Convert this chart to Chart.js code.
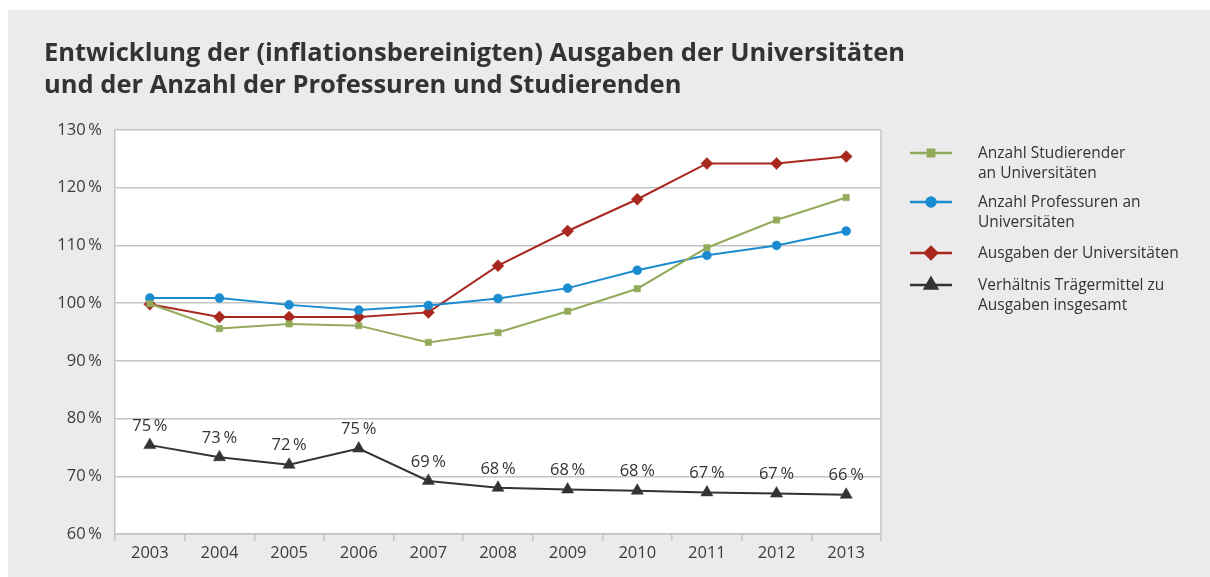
<!DOCTYPE html>
<html>
<head>
<meta charset="utf-8">
<script src="https://cdn.jsdelivr.net/npm/chart.js@4/dist/chart.umd.min.js"></script>
<style>
  html, body { margin: 0; padding: 0; background: #fff; }
  #wrap { position: relative; width: 1210px; height: 577px; }
</style>
</head>
<body>
<div id="wrap"><canvas id="chart" width="1210" height="577"></canvas></div>
<script>
// Daten
const years = ['2003', '2004', '2005', '2006', '2007', '2008', '2009', '2010', '2011', '2012', '2013'];
const studierende = [99.9, 95.6, 96.4, 96.1, 93.2, 94.9, 98.6, 102.5, 109.6, 114.4, 118.3];
const professuren = [100.9, 100.9, 99.7, 98.8, 99.6, 100.8, 102.6, 105.7, 108.3, 110.0, 112.5];
const ausgaben = [99.8, 97.6, 97.6, 97.6, 98.4, 106.5, 112.5, 118.0, 124.2, 124.2, 125.4];
const verhaeltnis = [75.4, 73.3, 72.0, 74.8, 69.2, 68.0, 67.7, 67.5, 67.2, 67.0, 66.8];
const verhaeltnisLabels = ['75\u2009%', '73\u2009%', '72\u2009%', '75\u2009%', '69\u2009%', '68\u2009%', '68\u2009%', '68\u2009%', '67\u2009%', '67\u2009%', '66\u2009%'];
const yTicks = [60, 70, 80, 90, 100, 110, 120, 130];
const titleLines = [
    'Entwicklung der (inflationsbereinigten) Ausgaben der Universitäten',
    'und der Anzahl der Professuren und Studierenden'
];
const legendTexts = [
    ['Anzahl Studierender', 'an Universitäten'],
    ['Anzahl Professuren an', 'Universitäten'],
    ['Ausgaben der Universitäten'],
    ['Verhältnis Trägermittel zu', 'Ausgaben insgesamt']
];

const FONT = '"Open Sans", "Noto Sans", sans-serif';
const GRID = '#c4c4c4';

// Hintergrund, Titel, Rahmen, Legende und Werte-Beschriftung
const decor = {
    id: 'decor',
    beforeDraw(chart) {
        const { ctx, chartArea: a } = chart;
        ctx.save();
        ctx.fillStyle = '#ebebeb';
        ctx.fillRect(8, 10, chart.width - 8, chart.height - 10);
        ctx.fillStyle = '#fff';
        ctx.fillRect(a.left, a.top, a.right - a.left, a.bottom - a.top);
        ctx.fillStyle = '#333';
        ctx.font = 'bold 25.5px ' + FONT;
        ctx.textBaseline = 'alphabetic';
        ctx.fillText(titleLines[0], 44, 61);
        ctx.fillText(titleLines[1], 44, 93);
        ctx.restore();
    },
    afterDraw(chart) {
        const { ctx, chartArea: a } = chart;
        ctx.save();
        // rechter Rahmen
        ctx.strokeStyle = GRID;
        ctx.lineWidth = 1.5;
        ctx.beginPath();
        ctx.moveTo(a.right, a.top);
        ctx.lineTo(a.right, a.bottom);
        ctx.stroke();

        // Prozentwerte über der schwarzen Linie
        const meta = chart.getDatasetMeta(3);
        ctx.fillStyle = '#333';
        ctx.font = '16.5px ' + FONT;
        ctx.textAlign = 'center';
        ctx.textBaseline = 'middle';
        meta.data.forEach((pt, i) => {
            ctx.fillText(verhaeltnisLabels[i], pt.x, pt.y - 19);
        });

        // Legende
        const rowY = [153, 202, 253, 285];
        ctx.textAlign = 'left';
        ctx.font = '15.5px ' + FONT;
        chart.data.datasets.forEach((ds, i) => {
            const y = rowY[i];
            ctx.strokeStyle = ds.borderColor;
            ctx.lineWidth = 2.5;
            ctx.beginPath();
            ctx.moveTo(910, y);
            ctx.lineTo(952, y);
            ctx.stroke();
            Chart.helpers.drawPoint(ctx, {
                pointStyle: ds.pointStyle,
                radius: ds.pointRadius,
                borderWidth: 1,
                rotation: 0
            }, 931, y);
            ctx.fillStyle = ds.borderColor;
            ctx.fill();
            ctx.fillStyle = '#333';
            legendTexts[i].forEach((t, j) => ctx.fillText(t, 978, y + 1 + j * 20));
        });
        ctx.restore();
    }
};

function makeDataset(label, data, color, style, radius) {
    return {
        label: label,
        data: data,
        borderColor: color,
        backgroundColor: color,
        pointBackgroundColor: color,
        pointBorderColor: color,
        pointStyle: style,
        pointRadius: radius,
        pointBorderWidth: 0.5,
        borderWidth: 2,
        tension: 0,
        clip: false
    };
}

new Chart(document.getElementById('chart').getContext('2d'), {
    type: 'line',
    data: {
        labels: years,
        datasets: [
            makeDataset(legendTexts[0].join(' '), studierende, '#93aa5a', 'rect', 4.5),
            makeDataset(legendTexts[1].join(' '), professuren, '#1b8ccf', 'circle', 4.5),
            makeDataset(legendTexts[2].join(' '), ausgaben, '#a8281f', 'rectRot', 6),
            makeDataset(legendTexts[3].join(' '), verhaeltnis, '#333333', 'triangle', 7)
        ]
    },
    options: {
        responsive: false,
        animation: false,
        layout: { padding: { top: 130, right: 329, left: 0, bottom: 0 } },
        plugins: {
            legend: { display: false },
            title: { display: false },
            tooltip: { enabled: false }
        },
        scales: {
            x: {
                offset: true,
                afterFit: s => { s.height = 43; },
                grid: {
                    offset: true,
                    drawOnChartArea: false,
                    drawTicks: true,
                    tickLength: 7,
                    color: GRID,
                    lineWidth: 1.5
                },
                border: { color: GRID, width: 1.5 },
                ticks: {
                    color: '#3c3c3c',
                    font: { family: FONT, size: 16.5 },
                    padding: 2,
                    maxRotation: 0
                }
            },
            y: {
                min: 60,
                max: 130,
                afterFit: s => { s.width = 115; },
                afterBuildTicks: s => { s.ticks = yTicks.map(v => ({ value: v })); },
                grid: { color: GRID, lineWidth: 1.5, drawTicks: false },
                border: { color: GRID, width: 1.5 },
                ticks: {
                    color: '#3c3c3c',
                    font: { family: FONT, size: 16.5 },
                    padding: 13,
                    callback: v => v + '\u2009%'
                }
            }
        }
    },
    plugins: [decor]
});
</script>
</body>
</html>
